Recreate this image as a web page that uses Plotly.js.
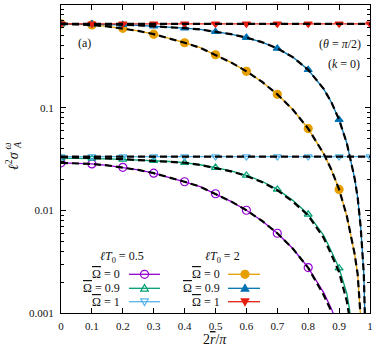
<!DOCTYPE html>
<html><head><meta charset="utf-8">
<script src="https://cdn.plot.ly/plotly-3.0.1.min.js"></script>
<style>html,body{margin:0;padding:0;background:#fff}#plot{width:374px;height:350px}</style>
</head><body><div id="plot"></div>
<script>
// dense abscissae for curves (2r/pi)
const xLine = [0,0.05,0.1,0.15,0.2,0.25,0.3,0.35,0.4,0.45,0.5,0.55,0.6,0.65,0.7,0.75,0.8,0.85,0.875,0.9,0.925,0.95,0.96,0.97,0.98,0.99,1];
// marker abscissae
const xMark = [0,0.1,0.2,0.3,0.4,0.5,0.6,0.7,0.8,0.9,1];

// lT0 = 0.5
const t05_om0   = [0.0290,0.02882,0.02829,0.02742,0.02623,0.02475,0.02302,0.02108,0.01898,0.01702,0.01450,0.01223,0.01002,0.00792,0.00598,0.00425,0.00277,0.00158,0.00110,0.00071,0.00040,0.00018,0.00011,0.00006,0.00003,0.00001,0.00001];
const t05_om09  = [0.0323,0.0322,0.0320,0.0317,0.0313,0.0309,0.0305,0.0299,0.0291,0.0278,0.0261,0.0242,0.0219,0.0192,0.0160,0.0125,0.00915,0.0057,0.0040,0.00273,0.00155,0.00055,0.0002,0.00005,0.00002,0.00001,0.00001];
const t05_om1   = [0.0334,0.0334,0.0334,0.0334,0.0334,0.0334,0.0334,0.0334,0.0334,0.0334,0.0334,0.0334,0.0334,0.0334,0.0334,0.0334,0.0334,0.0334,0.0334,0.0334,0.0334,0.0334,0.0334,0.0334,0.0334,0.0334,0.0334];
// lT0 = 2
const t2_om0    = [0.655,0.651,0.639,0.619,0.592,0.559,0.520,0.476,0.429,0.384,0.3275,0.276,0.226,0.179,0.135,0.0959,0.0625,0.0357,0.0249,0.0160,0.0088,0.0038,0.0024,0.0011,0.0005,0.00012,0.00001];
const t2_om09   = [0.655,0.654,0.652,0.648,0.642,0.634,0.624,0.611,0.595,0.578,0.550,0.520,0.482,0.435,0.378,0.311,0.234,0.1525,0.113,0.0764,0.0450,0.0207,0.0134,0.0068,0.0024,0.0004,0.00001];
const t2_om1    = [0.655,0.655,0.655,0.655,0.655,0.655,0.655,0.655,0.655,0.655,0.655,0.655,0.655,0.655,0.655,0.655,0.655,0.655,0.655,0.655,0.655,0.655,0.655,0.655,0.655,0.655,0.655];

// approximations (black dashed)
const ap05_om0  = [0.0290,0.02882,0.02829,0.02742,0.02623,0.02475,0.02302,0.02108,0.01898,0.01702,0.01450,0.01223,0.01002,0.00792,0.00598,0.00425,0.00275,0.00150,0.00104,0.00066,0.00036,0.00016,0.0001,0.00005,0.00003,0.00001,0.00001];
const ap05_om09 = [0.0330,0.0328,0.0325,0.0320,0.0315,0.0310,0.0305,0.0299,0.0291,0.0277,0.0260,0.0240,0.0216,0.0189,0.0157,0.0122,0.0089,0.0054,0.0037,0.0025,0.0013,0.00045,0.00015,0.00004,0.00002,0.00001,0.00001];
const ap05_om1  = t05_om1;
const ap2_om0   = t2_om0;
const ap2_om09  = t2_om09;
const ap2_om1   = t2_om1;

// marker values
const m05_om0  = [0.0290,0.02829,0.02623,0.02302,0.01898,0.01450,0.01002,0.00598,0.00277,0.00071,0.00001];
const m05_om09 = [0.0323,0.0320,0.0313,0.0305,0.0291,0.0261,0.0219,0.0160,0.00915,0.00273,0.00001];
const m05_om1  = [0.0334,0.0334,0.0334,0.0334,0.0334,0.0334,0.0334,0.0334,0.0334,0.0334,0.0334];
const m2_om0   = [0.655,0.639,0.592,0.520,0.429,0.3275,0.226,0.135,0.0625,0.0160,0.00001];
const m2_om09  = [0.655,0.652,0.642,0.624,0.595,0.550,0.482,0.378,0.234,0.0764,0.00001];
const m2_om1   = [0.655,0.655,0.655,0.655,0.655,0.655,0.655,0.655,0.655,0.655,0.655];

const xTicks = [0,0.1,0.2,0.3,0.4,0.5,0.6,0.7,0.8,0.9,1];
const xTickText = ['0','0.1','0.2','0.3','0.4','0.5','0.6','0.7','0.8','0.9','1'];
const yTicks = [0.001,0.01,0.1,1];
const yTickText = ['0.001','0.01','0.1','1'];
const OMB = '<span style="text-decoration:overline">Ω</span>';
const omLabels = [OMB + ' = 0', OMB + ' = 0.9', OMB + ' = 1'];
const groupLabels = ['<i>ℓT</i><sub>0</sub> = 0.5','<i>ℓT</i><sub>0</sub> = 2'];

const C = {purple:'#9400d3', green:'#009e73', lblue:'#56b4e9', orange:'#e69f00', blue:'#0072b2', red:'#e51e10'};
const FONT = 'Liberation Serif';

const series = [
  {y:t05_om0, m:m05_om0, ap:ap05_om0, c:C.purple, sym:'circle-open'},
  {y:t05_om09, m:m05_om09, ap:ap05_om09, c:C.green, sym:'triangle-up-open'},
  {y:t05_om1, m:m05_om1, ap:ap05_om1, c:C.lblue, sym:'triangle-down-open'},
  {y:t2_om0, m:m2_om0, ap:ap2_om0, c:C.orange, sym:'circle'},
  {y:t2_om09, m:m2_om09, ap:ap2_om09, c:C.blue, sym:'triangle-up'},
  {y:t2_om1, m:m2_om1, ap:ap2_om1, c:C.red, sym:'triangle-down'}
];

const traces = [];
series.forEach(s => traces.push({x:xLine, y:s.y, mode:'lines', line:{color:s.c, width:1.3}, showlegend:false, hoverinfo:'skip'}));
series.forEach(s => traces.push({x:xMark, y:s.m, mode:'markers', marker:{symbol:s.sym, color:s.c, size:s.sym.indexOf('circle')===0?8:7, line:{color:s.c, width:1.2}}, showlegend:false, hoverinfo:'skip'}));
series.forEach(s => traces.push({x:xLine, y:s.ap, mode:'lines', line:{color:'#000', width:2.2, dash:'7px,4px'}, showlegend:false, hoverinfo:'skip'}));

// pixel -> paper helpers for layout decorations
const L = 61, R = 4, T = 5, B = 37, W = 374, H = 350;
const pw = W - L - R, ph = H - T - B;
const px = v => (v - L) / pw;
const py = v => (H - B - v) / ph;

const annotations = [
  {text:'(a)', x:px(84), y:py(43), size:12},
  {text:'(<i>θ</i> = <i>π</i>/2)', x:px(363), y:py(44), size:12, xanchor:'right'},
  {text:'(<i>k</i> = 0)', x:px(362), y:py(64), size:12, xanchor:'right'},
  {text:'2<i><span style="text-decoration:overline">r</span></i>/<i>π</i>', x:px(215), y:py(339), size:14},
  {text:'<i>ℓ</i><sup>2</sup><i>σ</i>', x:px(12), y:py(161), size:14, angle:-90},
  {text:'<i>ω</i>', x:px(6.5), y:py(146), size:10, angle:-90},
  {text:'<i>A</i>', x:px(17), y:py(145), size:10, angle:-90},
  {text:groupLabels[0], x:px(121.7), y:py(257), size:12},
  {text:groupLabels[1], x:px(222), y:py(257), size:12}
].map(a => ({text:a.text, x:a.x, y:a.y, xref:'paper', yref:'paper', showarrow:false,
  xanchor:a.xanchor||'center', yanchor:'middle', textangle:a.angle||0,
  font:{family:FONT, size:a.size, color:'#111'}}));

const rowsY = [274.3, 288.3, 301.7];
const cols = [{textX:121.5, x0:129, x1:160, mx:144.5, s:[0,1,2]}, {textX:222.5, x0:228, x1:260, mx:245, s:[3,4,5]}];
const shapes = [];
const triUp = 'M-3.8,-2.8L3.8,-2.8L0,3.8Z';
const triDown = 'M-3.8,2.8L3.8,2.8L0,-3.8Z';
cols.forEach(col => {
  col.s.forEach((si, r) => {
    const s = series[si];
    const yy = py(rowsY[r]);
    annotations.push({text:omLabels[r], x:px(col.textX), y:yy, xref:'paper', yref:'paper', showarrow:false, xanchor:'right', yanchor:'middle', font:{family:FONT, size:12, color:'#111'}});
    shapes.push({type:'line', xref:'paper', yref:'paper', x0:px(col.x0), x1:px(col.x1), y0:yy, y1:yy, line:{color:s.c, width:1.3}});
    const open = s.sym.indexOf('open') > 0;
    const fill = open ? 'rgba(0,0,0,0)' : s.c;
    const base = {xref:'paper', yref:'paper', xsizemode:'pixel', ysizemode:'pixel', xanchor:px(col.mx), yanchor:yy, line:{color:s.c, width:1.2}, fillcolor:fill};
    if (s.sym.indexOf('circle') === 0) {
      shapes.push(Object.assign({type:'circle', x0:-4, x1:4, y0:-4, y1:4}, base));
    } else if (s.sym.indexOf('triangle-up') === 0) {
      shapes.push(Object.assign({type:'path', path:triUp}, base));
    } else {
      shapes.push(Object.assign({type:'path', path:triDown}, base));
    }
  });
});

const minorY = [];
[0.001,0.01,0.1].forEach(d => { for (let k=2;k<=9;k++) minorY.push(d*k); });

const layout = {
  width:W, height:H,
  margin:{l:L, r:R, t:T, b:B, pad:0},
  paper_bgcolor:'#fff', plot_bgcolor:'#fff',
  showlegend:false,
  font:{family:FONT, size:11, color:'#111'},
  xaxis:{range:[0,1], tickmode:'array', tickvals:xTicks, ticktext:xTickText,
    ticks:'inside', ticklen:5, tickwidth:1, tickcolor:'#000', mirror:'allticks',
    showline:true, linecolor:'#000', linewidth:1, showgrid:false, zeroline:false,
    tickfont:{family:FONT, size:11, color:'#111'}, ticklabelstandoff:3},
  yaxis:{type:'log', range:[-3,0], tickmode:'array', tickvals:yTicks, ticktext:yTickText,
    ticks:'inside', ticklen:5, tickwidth:1, tickcolor:'#000', mirror:'allticks',
    showline:true, linecolor:'#000', linewidth:1, showgrid:false, zeroline:false,
    tickfont:{family:FONT, size:11, color:'#111'}, ticklabelstandoff:4,
    minor:{tickmode:'array', tickvals:minorY, ticks:'inside', ticklen:3, tickwidth:1, tickcolor:'#000', showgrid:false}},
  annotations:annotations,
  shapes:shapes
};

Plotly.newPlot('plot', traces, layout, {staticPlot:true, displayModeBar:false});
</script>
</body></html>
